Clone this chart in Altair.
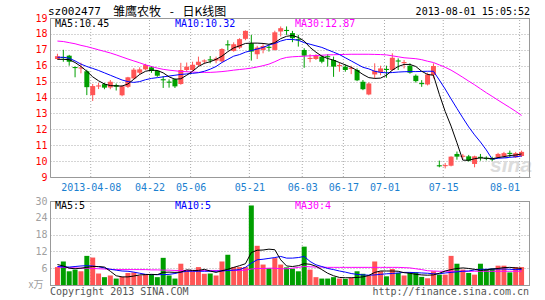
import altair as alt
import pandas as pd

RED = "#ff5555"
GREEN = "#009f00"
GRID = "#aaaaaa"
FRAME = "#999999"
MONO = "DejaVu Sans Mono"

# ---------------- data ----------------
days = list(range(80))
open_ = [16.42, 16.55, 16.63, 15.92, 15.82, 15.65, 14.15, 14.69, 14.84, 14.63,
         14.78, 14.14, 14.67, 15.20, 15.56, 15.77, 15.90, 15.68, 15.15, 15.00,
         15.15, 14.85, 15.73, 15.73, 16.05, 16.26, 16.40, 16.32, 16.27, 17.35,
         16.93, 17.14, 17.69, 17.41, 16.72, 16.99, 17.19, 16.99, 18.15, 18.25,
         18.05, 17.67, 16.99, 16.42, 16.42, 16.57, 16.60, 16.36, 15.97, 15.94,
         15.80, 15.73, 14.99, 14.19, 15.45, 15.58, 15.80, 15.73, 16.33, 16.16,
         16.00, 15.37, 14.91, 14.82, 15.41, 9.74, 9.68, 9.71, 10.45, 10.27,
         10.30, 9.82, 10.27, 10.21, 10.16, 10.24, 10.30, 10.52, 10.24, 10.32]
high = [16.75, 17.00, 16.68, 15.95, 16.19, 15.75, 14.85, 14.92, 14.92, 15.10,
        14.88, 14.78, 15.30, 15.85, 15.90, 16.12, 15.98, 15.72, 15.35, 15.14,
        15.20, 16.18, 16.20, 16.25, 16.57, 16.40, 16.61, 16.57, 17.10, 17.60,
        17.47, 17.73, 18.22, 17.94, 17.25, 17.35, 17.35, 18.20, 18.47, 18.47,
        18.19, 17.94, 17.10, 16.72, 16.72, 16.67, 16.72, 16.57, 16.19, 16.08,
        16.00, 15.83, 15.10, 14.95, 16.15, 16.00, 16.00, 16.78, 16.46, 16.36,
        16.15, 15.45, 15.09, 15.56, 16.15, 10.03, 9.88, 10.30, 10.60, 10.45,
        10.39, 10.34, 10.45, 10.30, 10.28, 10.52, 10.58, 10.66, 10.58, 10.66]
low = [16.38, 16.25, 16.00, 15.27, 15.52, 14.15, 13.78, 14.53, 14.52, 14.52,
       14.44, 14.08, 14.60, 15.15, 15.45, 15.72, 15.55, 15.30, 14.60, 14.62,
       14.60, 14.80, 15.62, 15.68, 15.95, 16.10, 16.15, 16.15, 16.20, 16.98,
       16.88, 17.05, 17.60, 16.32, 16.42, 16.78, 16.89, 16.95, 17.84, 17.94,
       17.48, 17.20, 15.87, 16.21, 16.36, 16.15, 15.94, 15.30, 15.62, 15.62,
       15.47, 15.03, 14.46, 14.14, 15.20, 15.40, 15.24, 15.68, 15.73, 15.83,
       15.50, 14.94, 14.67, 14.76, 15.20, 9.61, 9.54, 9.67, 10.09, 10.13,
       9.97, 9.61, 10.03, 10.05, 10.00, 10.20, 10.20, 10.24, 10.20, 10.26]
close = [16.60, 16.48, 16.25, 15.85, 15.89, 14.65, 14.72, 14.76, 14.62, 14.99,
         14.68, 14.71, 15.27, 15.75, 15.77, 16.04, 15.67, 15.37, 15.08, 14.93,
         14.70, 15.73, 15.94, 16.06, 16.25, 16.33, 16.33, 16.45, 17.05, 17.28,
         17.35, 17.67, 18.19, 16.89, 17.14, 17.24, 17.12, 18.10, 18.36, 18.18,
         17.73, 17.60, 16.63, 16.49, 16.63, 16.25, 16.53, 15.94, 16.04, 15.73,
         15.87, 15.08, 14.52, 14.88, 15.68, 15.83, 15.73, 16.50, 16.26, 16.23,
         15.56, 15.03, 14.84, 15.45, 15.98, 9.67, 9.75, 10.28, 10.28, 10.34,
         10.03, 10.30, 10.20, 10.14, 10.09, 10.45, 10.50, 10.45, 10.50, 10.58]
volume = [6.4, 8.4, 4.9, 5.5, 4.9, 10.4, 9.8, 4.1, 2.8, 3.4,
          2.3, 2.9, 4.3, 4.5, 3.4, 3.8, 3.8, 2.8, 9.7, 3.4,
          2.3, 7.6, 5.2, 4.9, 6.4, 4.0, 4.1, 3.4, 8.4, 10.8,
          6.4, 6.4, 6.4, 28.4, 14.0, 7.3, 6.0, 9.6, 7.3, 6.3,
          5.8, 4.9, 13.7, 5.5, 2.8, 2.3, 2.3, 2.8, 2.3, 2.2,
          2.6, 4.9, 4.0, 3.4, 8.4, 4.9, 3.1, 5.7, 4.3, 3.4,
          4.3, 4.5, 2.9, 2.4, 4.9, 3.7, 3.7, 10.4, 7.6, 5.5,
          4.3, 3.7, 7.6, 5.7, 5.9, 6.9, 6.9, 4.5, 6.4, 6.4]
ma5 = [16.40, 16.40, 16.38, 16.20, 15.95, 15.65, 15.30, 15.05, 14.85, 14.75,
       14.73, 14.72, 14.85, 15.15, 15.45, 15.65, 15.72, 15.70, 15.55, 15.30,
       15.15, 15.18, 15.40, 15.65, 15.95, 16.15, 16.25, 16.40, 16.60, 16.88,
       17.12, 17.25, 17.40, 17.42, 17.42, 17.40, 17.35, 17.45, 17.70, 17.85,
       17.90, 17.78, 17.55, 17.15, 16.85, 16.60, 16.45, 16.35, 16.20, 16.05,
       15.90, 15.70, 15.45, 15.25, 15.20, 15.22, 15.40, 15.72, 15.95, 16.08,
       16.08, 15.95, 15.65, 15.45, 15.40, 14.20, 13.12, 12.20, 11.15, 10.06,
       10.05, 10.15, 10.20, 10.18, 10.15, 10.22, 10.28, 10.35, 10.38, 10.45]
ma10 = [16.53, 16.53, 16.47, 16.30, 16.10, 15.95, 15.83, 15.70, 15.55, 15.40,
        15.25, 15.10, 15.00, 14.95, 15.00, 15.12, 15.20, 15.25, 15.30, 15.35,
        15.40, 15.45, 15.48, 15.52, 15.56, 15.65, 15.78, 15.95, 16.20, 16.40,
        16.60, 16.70, 16.85, 16.95, 17.05, 17.15, 17.30, 17.40, 17.55, 17.65,
        17.65, 17.60, 17.45, 17.35, 17.25, 17.15, 17.00, 16.85, 16.70, 16.50,
        16.30, 16.10, 15.90, 15.80, 15.65, 15.58, 15.55, 15.57, 15.60, 15.62,
        15.63, 15.63, 15.64, 15.65, 15.65, 15.10, 14.53, 13.91, 13.31, 12.72,
        12.15, 11.65, 11.20, 10.70, 10.12, 10.18, 10.20, 10.24, 10.27, 10.32]
ma30 = [17.55, 17.52, 17.45, 17.38, 17.28, 17.20, 17.10, 17.00, 16.90, 16.80,
        16.68, 16.55, 16.42, 16.30, 16.18, 16.05, 15.95, 15.85, 15.77, 15.72,
        15.68, 15.64, 15.62, 15.60, 15.58, 15.58, 15.58, 15.60, 15.63, 15.67,
        15.72, 15.76, 15.80, 15.85, 15.92, 16.00, 16.10, 16.25, 16.42, 16.52,
        16.56, 16.58, 16.60, 16.62, 16.64, 16.66, 16.68, 16.69, 16.70, 16.71,
        16.72, 16.72, 16.72, 16.72, 16.71, 16.70, 16.68, 16.62, 16.56, 16.50,
        16.47, 16.44, 16.38, 16.28, 16.20, 16.05, 15.90, 15.72, 15.50, 15.27,
        15.03, 14.80, 14.55, 14.30, 14.07, 13.83, 13.60, 13.37, 13.13, 12.87]
vma5 = [7.3, 6.8, 6.0, 5.8, 6.0, 6.3, 6.6, 6.6, 6.4, 4.9,
        3.3, 2.9, 2.9, 3.2, 3.6, 3.7, 3.8, 3.7, 4.5, 4.6,
        4.5, 4.6, 5.4, 5.2, 5.2, 5.6, 5.0, 4.5, 5.1, 5.6,
        6.3, 6.9, 7.6, 11.6, 12.4, 12.5, 12.8, 12.6, 9.0, 6.8,
        6.6, 6.9, 7.6, 7.4, 6.7, 5.5, 4.2, 3.3, 2.7, 2.6,
        2.6, 2.7, 2.9, 3.4, 4.5, 5.0, 5.0, 5.0, 4.9, 4.4,
        4.2, 3.8, 3.6, 3.5, 3.6, 4.2, 5.0, 5.5, 5.9, 6.1,
        5.9, 5.6, 5.2, 5.4, 5.7, 5.9, 6.2, 6.3, 6.1, 5.9]
vma10 = [6.6, 6.5, 6.4, 6.6, 6.8, 6.9, 6.8, 6.5, 6.1, 5.6,
         5.3, 5.0, 4.9, 4.6, 4.2, 3.8, 3.7, 3.7, 3.7, 3.8,
         4.1, 4.6, 4.9, 4.9, 4.9, 4.9, 4.9, 4.9, 5.0, 5.2,
         5.3, 5.5, 6.3, 7.8, 9.0, 9.2, 9.5, 9.8, 10.2, 9.6,
         9.6, 9.8, 10.2, 8.4, 7.2, 6.6, 5.9, 5.5, 5.0, 4.6,
         4.1, 3.8, 3.6, 3.5, 3.6, 3.8, 4.0, 4.1, 4.3, 4.5,
         4.5, 4.4, 4.3, 4.2, 4.0, 4.0, 4.3, 4.5, 4.7, 4.9,
         5.0, 5.4, 5.6, 5.6, 5.7, 5.7, 5.7, 5.6, 5.5, 5.5]
vma30 = [6.4, 6.3, 6.2, 6.1, 6.0, 6.0, 5.9, 5.8, 5.7, 5.6,
         5.5, 5.5, 5.5, 5.5, 5.5, 5.5, 5.4, 5.4, 5.3, 5.3,
         5.2, 5.2, 5.2, 5.2, 5.2, 5.2, 5.2, 5.2, 5.2, 5.2,
         5.2, 5.2, 5.3, 5.7, 5.9, 5.9, 6.0, 6.0, 5.8, 5.8,
         6.0, 6.3, 6.6, 6.5, 6.4, 6.4, 6.3, 6.3, 6.3, 6.3,
         6.3, 6.3, 6.3, 6.3, 6.3, 6.3, 6.3, 6.3, 6.3, 6.2,
         6.1, 5.8, 5.5, 5.1, 5.0, 4.9, 4.9, 4.9, 4.9, 4.9,
         4.9, 4.9, 4.9, 4.9, 4.9, 4.9, 4.9, 4.9, 4.9, 4.9]

label_idx = [6, 16, 23, 33, 42, 49, 56, 66, 79]
tick_labels = ["2013-04-08", "04-22", "05-06", "05-21", "06-03", "06-17",
               "07-01", "07-15", "08-01"]
price_ticks = list(range(9, 20))
vol_ticks = [6, 12, 18, 24, 30]

code_text = ["sz002477"]
title_text = ["雏鹰农牧\u2002 - \u2002日K线图"]
time_text = ["2013-08-01 15:05:52"]
legend_price = ["MA5:10.45", "MA10:10.32", "MA30:12.87"]
legend_vol = ["MA5:5", "MA10:5", "MA30:4"]
legend_colors = ["#000000", "#0000ff", "#ff00ff"]
unit_text = ["x万"]
copy_text = ["Copyright 2013 SINA.COM"]
url_text = ["http://finance.sina.com.cn"]
mark_text = ["sina"]

# ---------------- tables ----------------
df = pd.DataFrame(dict(i=days, o=open_, h=high, l=low, c=close, v=volume,
                       ma5=ma5, ma10=ma10, ma30=ma30,
                       vma5=vma5, vma10=vma10, vma30=vma30))
df["dir"] = ["up" if c >= o else "down" for o, c in zip(open_, close)]
grid_df = pd.DataFrame({"g": [k - 1 / 3 for k in label_idx]})
one = pd.DataFrame({"k": [0]})

xs = alt.Scale(domain=[-0.4167, 79.5833], nice=False, zero=False)
ps = alt.Scale(domain=[9, 19], range=[159, 0], nice=False, zero=False)
vs = alt.Scale(domain=[0, 30], range=[267, 183], nice=False, zero=False)
cs = alt.Scale(domain=["up", "down"], range=[RED, GREEN])

label_expr = ":".join(
    f"round(datum.value)=={k}?'{t}'" for k, t in zip(label_idx, tick_labels)
) + ":''"

x_axis = alt.Axis(values=[k - 1 / 3 for k in label_idx], labelExpr=label_expr,
                  grid=False, ticks=False, domain=True, domainColor=FRAME,
                  offset=-108, labelColor="#1a80d0", labelFont=MONO,
                  labelFontSize=10, labelPadding=5, labelFlush=False,
                  labelOverlap=False, title=None,
                  labelAlign={"condition": {"test": "datum.value > 75", "value": "right"},
                              "value": "center"})
price_axis = alt.Axis(values=price_ticks, orient="left", grid=True, gridDash=[1, 2],
                      gridColor=GRID, ticks=False, domain=True, domainColor=FRAME,
                      labelColor="#ff0000", labelFont=MONO, labelFontSize=10,
                      labelPadding=3, title=None)
vol_axis = alt.Axis(values=vol_ticks, orient="left", grid=True, gridDash=[1, 2],
                    gridColor=GRID, ticks=False, domain=True, domainColor=FRAME,
                    labelColor="#a0a0a0", labelFont=MONO, labelFontSize=10,
                    labelPadding=3, title=None)

# every layer carries the same x axis definition so they merge into one
X = lambda f: alt.X(f, type="quantitative", scale=xs, axis=x_axis)
color = alt.Color("dir:N", scale=cs, legend=None)

layers = []

# vertical dotted grid
layers.append(alt.Chart(grid_df).mark_rule(color=GRID, strokeDash=[1, 2]).encode(
    x=X("g"), y=alt.YDatum(9, scale=ps, axis=None), y2=alt.Y2Datum(19)))
layers.append(alt.Chart(grid_df).mark_rule(color=GRID, strokeDash=[1, 2]).encode(
    x=X("g"), y=alt.YDatum(0, scale=vs, axis=None), y2=alt.Y2Datum(30)))

# watermark
layers.append(alt.Chart(pd.DataFrame({"t": mark_text})).mark_text(
    font="Liberation Sans", fontSize=21, fontStyle="italic", fontWeight="bold",
    color="#dcdcdc", align="center", baseline="middle").encode(
    x=alt.value(461), y=alt.value(148), text="t:N"))

# candles
base = alt.Chart(df)
layers.append(base.mark_rule(strokeWidth=1).encode(
    x=X("i"), y=alt.Y("l:Q", scale=ps, axis=price_axis), y2="h:Q", color=color))
layers.append(base.mark_bar(size=5).encode(
    x=X("i"), y=alt.Y("o:Q", scale=ps, axis=None), y2="c:Q", color=color))

# volume bars
layers.append(base.mark_bar(size=5).encode(
    x=X("i"), y=alt.Y("v:Q", scale=vs, axis=vol_axis), color=color))

# moving averages
for f, col in zip(["ma30", "ma10", "ma5"], ["#ff00ff", "#0000ff", "#000000"]):
    layers.append(base.mark_line(color=col, strokeWidth=1).encode(
        x=X("i"), y=alt.Y(f"{f}:Q", scale=ps, axis=None)))
for f, col in zip(["vma30", "vma10", "vma5"], ["#ff00ff", "#0000ff", "#000000"]):
    layers.append(base.mark_line(color=col, strokeWidth=1).encode(
        x=X("i"), y=alt.Y(f"{f}:Q", scale=vs, axis=None)))

# frame
oc = alt.Chart(one)
layers.append(oc.mark_rule(color=FRAME, yOffset=0.5).encode(
    x=alt.value(0), x2=alt.value(480), y=alt.YDatum(19, scale=ps, axis=None)))
layers.append(oc.mark_rule(color=FRAME).encode(
    x=alt.value(479.5), y=alt.YDatum(9, scale=ps, axis=None), y2=alt.Y2Datum(19)))
layers.append(oc.mark_rule(color=FRAME, yOffset=0.5).encode(
    x=alt.value(0), x2=alt.value(480), y=alt.YDatum(30, scale=vs, axis=None)))
layers.append(oc.mark_rule(color=FRAME, yOffset=0.5).encode(
    x=alt.value(0), x2=alt.value(480), y=alt.YDatum(0, scale=vs, axis=None)))
layers.append(oc.mark_rule(color=FRAME).encode(
    x=alt.value(479.5), y=alt.YDatum(0, scale=vs, axis=None), y2=alt.Y2Datum(30)))


def txt(values, x, y, col, align="left", font=MONO, size=10):
    return alt.Chart(pd.DataFrame({"t": values})).mark_text(
        font=font, fontSize=size, color=col, align=align, baseline="middle").encode(
        x=alt.value(x), y=alt.value(y), text="t:N")


layers.append(txt(code_text, -2, -6, "#000000", size=11))
layers.append(txt(title_text, 63, -6, "#000000", font="Noto Sans CJK SC", size=12))
layers.append(txt(time_text, 480, -6, "#000000", align="right", size=10))
for t, xx, col in zip(legend_price, [5, 125, 245], legend_colors):
    layers.append(txt([t], xx, 5.5, col))
for t, xx, col in zip(legend_vol, [5, 125, 245], legend_colors):
    layers.append(txt([t], xx, 188, col))
layers.append(txt(unit_text, -14, 267, "#a0a0a0", align="center", font="Noto Sans CJK SC", size=10))
layers.append(txt(copy_text, 0, 274, "#555555"))
layers.append(txt(url_text, 479, 274, "#555555", align="right"))

chart = alt.layer(*layers).resolve_scale(y="independent").properties(
    width=480, height=267,
    autosize=alt.AutoSizeParams(type="none"),
    padding={"left": 50, "top": 18, "right": 15, "bottom": 15},
).configure_view(strokeWidth=0)

chart.save("out.html", embed_options={"renderer": "svg", "actions": False})
